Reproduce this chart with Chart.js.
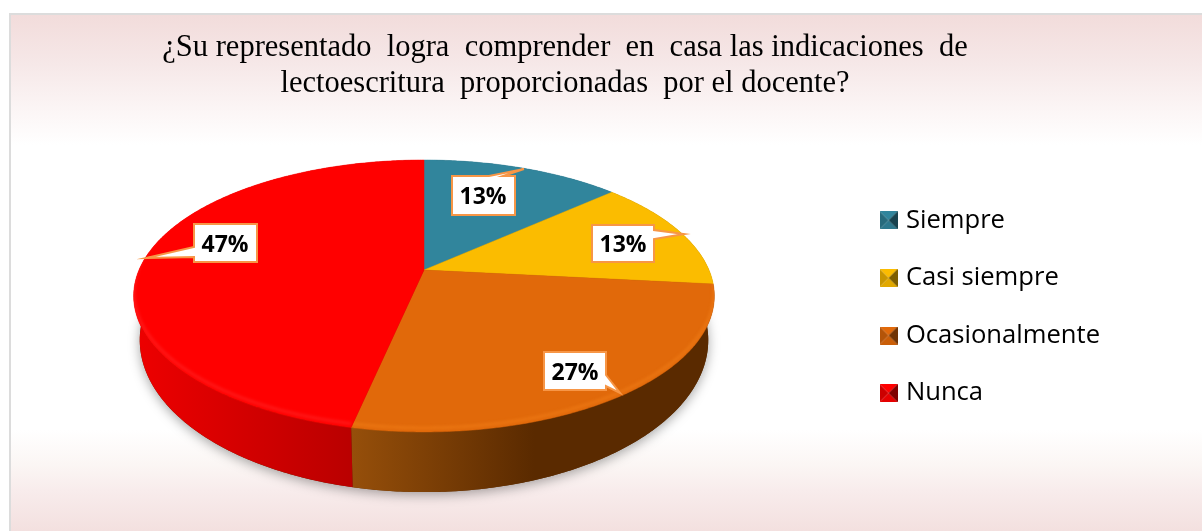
<!DOCTYPE html>
<html lang="es">
<head>
<meta charset="utf-8">
<title>Lectoescritura</title>
<script src="https://cdn.jsdelivr.net/npm/chart.js@4"></script>
<style>
    html, body { margin: 0; width: 1202px; height: 531px; overflow: hidden; background: #fff; }
    #panel {
        position: absolute; left: 9px; top: 13px; right: -4px; bottom: 0;
        border: 2px solid #dcdcdc; border-bottom: 0;
        background: linear-gradient(#f2dcdb 0, #f6e8e8 50px, #fbf4f4 90px, #fff 130px, #fff 415px, #fbf6f4 450px, #f8ecec 475px, #f3e0df 100%);
    }
    #chart { position: absolute; left: 0; top: 0; }
</style>
</head>
<body>
<div id="panel"></div>
<canvas id="chart" width="1202" height="531"></canvas>
<script>
const categories = ["Siempre", "Casi siempre", "Ocasionalmente", "Nunca"];
const answers = [2, 2, 4, 7];
const sliceColors = ["#31859c", "#fbbc00", "#e1690a", "#ff0000"];
const titleLines = [
    "¿Su representado  logra  comprender  en  casa las indicaciones  de",
    "lectoescritura  proporcionadas  por el docente?"
];

// wall colours, left and right end of each slice's side
const wallColors = [["#1c5260", "#1c5260"], ["#7d5e00", "#7d5e00"], ["#964f0a", "#5a2a00"], ["#ee0000", "#a80000"]];
const rimColors = ["#4aa0b8", "#ffd040", "#f5821a", "#ff3030"];

// the pie is seen in perspective: unit circle -> screen
const topFace = { cx: 424, cy: 270, b: 285, a: 131, k: -0.191 };
const bottomFace = { cx: 424, cy: 311, b: 279, a: 146.5, k: -0.191 };

function project(face, angle) {
    const u = Math.cos(angle), v = Math.sin(angle);
    const d = 1 + face.k * v;
    return [face.cx + face.b * u / d, face.cy + face.a * v / d];
}

function rimPoints(face, start, end) {
    const steps = Math.max(2, Math.ceil((end - start) / 0.01));
    const pts = [];
    for (let i = 0; i <= steps; i++) pts.push(project(face, start + (end - start) * i / steps));
    return pts;
}

function tracePoints(ctx, pts) {
    pts.forEach((p, i) => i ? ctx.lineTo(p[0], p[1]) : ctx.moveTo(p[0], p[1]));
}

// draws the library's arcs through the projection above
const pie3d = {
    id: "pie3d",
    beforeDatasetDraw(chart, args) {
        const ctx = chart.ctx;
        const arcs = args.meta.data;
        ctx.save();

        // ground shadow
        ctx.save();
        ctx.shadowColor = "rgba(0,0,0,0.35)";
        ctx.shadowBlur = 12;
        ctx.shadowOffsetY = 3;
        ctx.fillStyle = "#5a2a00";
        ctx.beginPath();
        tracePoints(ctx, rimPoints(bottomFace, 0, Math.PI * 2));
        ctx.closePath();
        ctx.fill();
        ctx.restore();

        // side wall
        arcs.forEach((arc, i) => {
            const top = rimPoints(topFace, arc.startAngle, arc.endAngle);
            const bottom = rimPoints(bottomFace, arc.startAngle, arc.endAngle).reverse();
            const xs = top.concat(bottom).map(p => p[0]);
            const g = ctx.createLinearGradient(Math.min(...xs), 0, Math.max(...xs) - (i === 2 ? 180 : 0), 0);
            g.addColorStop(0, wallColors[i][0]);
            g.addColorStop(1, wallColors[i][1]);
            ctx.fillStyle = g;
            ctx.beginPath();
            tracePoints(ctx, top.concat(bottom));
            ctx.closePath();
            ctx.fill();
        });

        // top face
        arcs.forEach((arc, i) => {
            const rim = rimPoints(topFace, arc.startAngle, arc.endAngle);
            ctx.save();
            ctx.beginPath();
            ctx.moveTo(topFace.cx, topFace.cy);
            rim.forEach(p => ctx.lineTo(p[0], p[1]));
            ctx.closePath();
            ctx.fillStyle = sliceColors[i];
            ctx.fill();
            ctx.strokeStyle = sliceColors[i];
            ctx.lineWidth = 0.5;
            ctx.stroke();
            ctx.clip();
            // soft highlight along the front edge
            if (i >= 2) {
                ctx.filter = "blur(1.5px)";
                ctx.globalAlpha = 0.5;
                ctx.strokeStyle = rimColors[i];
                ctx.lineWidth = 3;
                ctx.beginPath();
                tracePoints(ctx, rim.map(p => [p[0], p[1] - 4]));
                ctx.stroke();
            }
            ctx.restore();
        });

        ctx.restore();
        return false;
    }
};

// callout outlines, text centre first
const callouts = [
    { at: [483, 197], outline: [[452, 176], [489, 176], [524, 169], [503, 176], [515, 176], [515, 215], [452, 215]] },
    { at: [623, 245], outline: [[592, 225], [654, 225], [654, 230], [684, 234], [654, 239], [654, 262], [592, 262]] },
    { at: [575, 373], outline: [[544, 352], [606, 352], [606, 375], [620, 393], [606, 386], [606, 390], [544, 390]] },
    { at: [225, 245], outline: [[194, 224], [257, 224], [257, 262], [194, 262], [194, 257], [146, 258], [194, 247]] }
];

const labelBoxes = {
    id: "labelBoxes",
    afterDatasetsDraw(chart) {
        const ctx = chart.ctx;
        const values = chart.data.datasets[0].data;
        const total = values.reduce((a, b) => a + b, 0);
        ctx.save();
        callouts.forEach((c, i) => {
            ctx.beginPath();
            tracePoints(ctx, c.outline);
            ctx.closePath();
            ctx.fillStyle = "#fff";
            ctx.fill();
            ctx.lineJoin = "miter";
            ctx.strokeStyle = "#f79646";
            ctx.lineWidth = 2;
            ctx.stroke();
            ctx.fillStyle = "#000";
            ctx.font = "bold 23px 'Open Sans'";
            ctx.textAlign = "center";
            ctx.textBaseline = "middle";
            ctx.fillText(Math.round(values[i] / total * 100) + "%", c.at[0], c.at[1]);
        });
        ctx.restore();
    }
};

// small bevelled square for the legend
function bevelMarker(color) {
    const c = document.createElement("canvas");
    c.width = 18; c.height = 18;
    const g = c.getContext("2d");
    const tri = (pts, alpha) => {
        g.globalAlpha = 1;
        g.fillStyle = color;
        g.beginPath();
        g.moveTo(pts[0], pts[1]); g.lineTo(pts[2], pts[3]); g.lineTo(pts[4], pts[5]);
        g.closePath();
        g.fill();
        g.globalAlpha = alpha;
        g.fillStyle = "#000";
        g.fill();
    };
    tri([0, 0, 18, 0, 9, 9], 0);
    tri([0, 18, 18, 18, 9, 9], 0.1);
    tri([0, 0, 0, 18, 9, 9], 0.2);
    tri([18, 0, 18, 18, 9, 9], 0.5);
    return c;
}

new Chart(document.getElementById("chart"), {
    type: "pie",
    data: {
        labels: categories,
        datasets: [{ data: answers, backgroundColor: sliceColors, borderWidth: 0 }]
    },
    plugins: [pie3d, labelBoxes],
    options: {
        responsive: false,
        animation: false,
        layout: { padding: { left: 20, right: 92, top: 0, bottom: 0 } },
        plugins: {
            tooltip: { enabled: false },
            title: {
                display: true,
                text: titleLines,
                color: "#000",
                font: { family: "'Liberation Serif'", size: 30.5, weight: "normal", lineHeight: 1.17 },
                padding: { top: 30, bottom: 10 }
            },
            legend: {
                position: "right",
                // blank legend title only pushes the rows down
                title: { display: true, text: " ", font: { size: 12 }, padding: { top: 0, bottom: 68 } },
                labels: {
                    color: "#000",
                    font: { family: "'Open Sans'", size: 25.6 },
                    boxWidth: 9,
                    boxHeight: 18,
                    padding: 32,
                    usePointStyle: true,
                    generateLabels: chart => categories.map((name, i) => ({
                        text: name,
                        fontColor: "#000",
                        pointStyle: bevelMarker(sliceColors[i]),
                        fillStyle: sliceColors[i],
                        strokeStyle: sliceColors[i],
                        lineWidth: 0,
                        index: i
                    }))
                }
            }
        }
    }
});
</script>
</body>
</html>
